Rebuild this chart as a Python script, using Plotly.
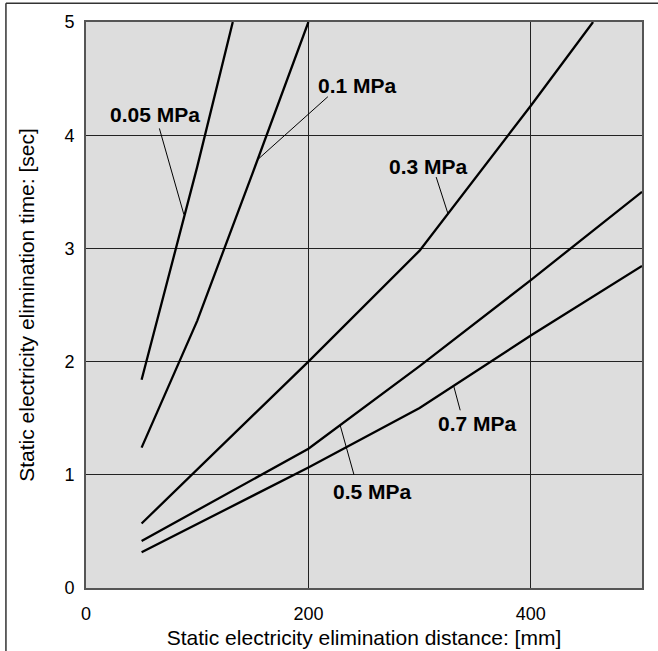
import plotly.graph_objects as go

# ---- data ----
x_005 = [50, 100, 132]
y_005 = [1.84, 3.72, 5.0]

x_01 = [50, 100, 150, 200]
y_01 = [1.24, 2.36, 3.67, 5.0]

x_03 = [50, 200, 300, 400, 456]
y_03 = [0.57, 2.0, 2.98, 4.26, 5.0]

x_05 = [50, 200, 300, 400, 500]
y_05 = [0.415, 1.23, 1.96, 2.72, 3.50]

x_07 = [50, 200, 300, 400, 500]
y_07 = [0.315, 1.065, 1.59, 2.23, 2.845]

series_names = ["0.05 MPa", "0.1 MPa", "0.3 MPa", "0.5 MPa", "0.7 MPa"]
x_ticks = [0, 200, 400]
y_ticks = [0, 1, 2, 3, 4, 5]

# label placement (text centre, leader start, leader end) in data units
label_pos = {
    "0.05 MPa": ((62, 4.18), (66, 4.06), (88, 3.30)),
    "0.1 MPa": ((243.8, 4.44), (217.5, 4.34), (155, 3.79)),
    "0.3 MPa": ((307.7, 3.72), (314.9, 3.63), (325.4, 3.31)),
    "0.5 MPa": ((257.8, 0.85), (241, 1.0), (228.5, 1.44)),
    "0.7 MPa": ((352.2, 1.456), (336.5, 1.57), (330.5, 1.79)),
}

FONT = "Liberation Sans, Arial, sans-serif"

fig = go.Figure()
for name, xs, ys in zip(series_names,
                        [x_005, x_01, x_03, x_05, x_07],
                        [y_005, y_01, y_03, y_05, y_07]):
    fig.add_trace(go.Scatter(x=xs, y=ys, mode="lines", name=name,
                             line=dict(color="black", width=2.3),
                             showlegend=False, cliponaxis=True))

shapes = []
annotations = []
for name in series_names:
    (tx, ty), (lx0, ly0), (lx1, ly1) = label_pos[name]
    annotations.append(dict(x=tx, y=ty, xref="x", yref="y", text="<b>%s</b>" % name,
                            showarrow=False, font=dict(family=FONT, size=21, color="black"),
                            xanchor="center", yanchor="middle"))
    shapes.append(dict(type="line", xref="x", yref="y", x0=lx0, y0=ly0, x1=lx1, y1=ly1,
                       line=dict(color="black", width=1)))

# outer frame (left and top edges of the picture)
shapes.append(dict(type="line", xref="paper", yref="paper", x0=-0.144, x1=-0.144,
                   y0=-0.2, y1=1.033, line=dict(color="#333", width=1.5), layer="above"))
shapes.append(dict(type="line", xref="paper", yref="paper", x0=-0.144, x1=1.2,
                   y0=1.033, y1=1.033, line=dict(color="#333", width=1.5), layer="above"))

fig.update_layout(
    width=658, height=651,
    margin=dict(l=86, r=16, t=22, b=63),
    paper_bgcolor="white",
    plot_bgcolor="#dddddd",
    shapes=shapes,
    annotations=annotations,
    font=dict(family=FONT, color="black"),
    xaxis=dict(range=[0, 500], tickvals=x_ticks, showgrid=True, gridcolor="#222",
               gridwidth=1, zeroline=False, showline=True, linecolor="#555", linewidth=2,
               mirror=True, ticks="", tickfont=dict(size=18, family=FONT),
               ticklabelstandoff=8,
               title=dict(text="Static electricity elimination distance: [mm]",
                          font=dict(size=21, family=FONT), standoff=8),
               automargin=False),
    yaxis=dict(range=[0, 5], tickvals=y_ticks, showgrid=True, gridcolor="#222",
               gridwidth=1, zeroline=False, showline=True, linecolor="#555", linewidth=2,
               mirror=True, ticks="", tickfont=dict(size=18, family=FONT),
               ticklabelstandoff=6,
               title=dict(text="Static electricity elimination time: [sec]",
                          font=dict(size=21, family=FONT), standoff=24),
               automargin=False),
)

fig.write_html("out.html", config={"displayModeBar": False},
               post_script="document.body.style.margin='0';document.body.style.padding='0';")
